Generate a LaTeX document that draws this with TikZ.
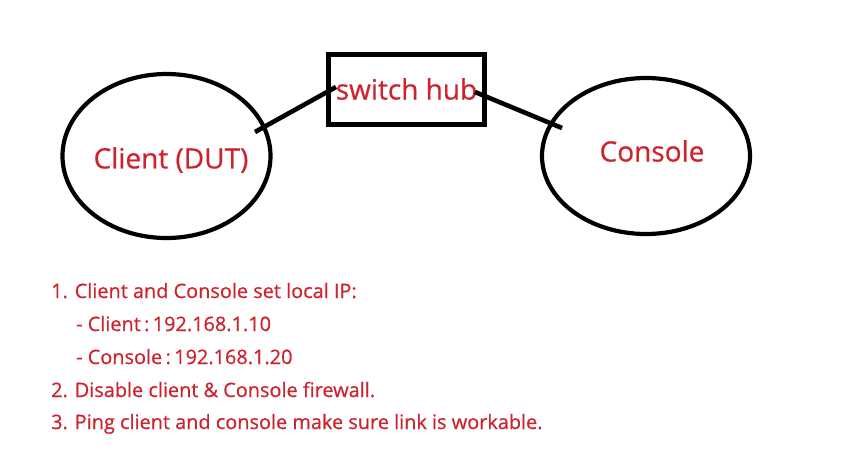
\documentclass[tikz,border=0pt]{standalone}
\usepackage{fontspec}
\setmainfont{Open Sans}
\newfontfamily\heavyfont[FakeBold=0.6]{Open Sans}
\usetikzlibrary{shapes.geometric}
\definecolor{txtred}{RGB}{205,35,45}
\tikzset{
  blob/.style={draw=black, line width=4.2pt, ellipse, inner sep=0pt},
  hubbox/.style={draw=black, line width=5pt, inner sep=0pt, minimum width=156pt, minimum height=70pt},
  lbl/.style={text=txtred, font=\heavyfont\fontsize{28}{32}\selectfont, inner sep=0pt},
  note/.style={text=txtred, font=\heavyfont\fontsize{19.9}{25}\selectfont, anchor=base west, inner sep=0pt},
  wire/.style={draw=black, line width=4.6pt}
}
\begin{document}
\begin{tikzpicture}[x=1pt,y=-1pt]
\useasboundingbox (0,0) rectangle (841,459);
\node[blob, minimum width=208pt, minimum height=164pt] (client) at (166.5,156) {};
\node[blob, minimum width=208pt, minimum height=156pt] (console) at (646,156) {};
\node[hubbox] (hub) at (406,89) {};
\node[lbl] (clientlbl) at (171,160) {Client (DUT)};
\node[lbl] (consolelbl) at (652,151) {Console};
\node[lbl] (hublbl) at (406.5,89) {switch hub};
\coordinate (a1) at (255,132);
\coordinate (a2) at (336,87);
\coordinate (b1) at (475,92);
\coordinate (b2) at (562,128);
\draw[wire] (a1) -- (a2);
\draw[wire] (b1) -- (b2);
\node[note] (n1) at (51,298) {1. Client and Console set local IP:};
\node[note] (n2) at (76,331) {- Client\,:\,192.168.1.10};
\node[note] (n3) at (76,364) {- Console\,:\,192.168.1.20};
\node[note] (n4) at (51,397) {2. Disable client \& Console firewall.};
\node[note] (n5) at (51,429) {3. Ping client and console make sure link is workable.};
\end{tikzpicture}
\end{document}
